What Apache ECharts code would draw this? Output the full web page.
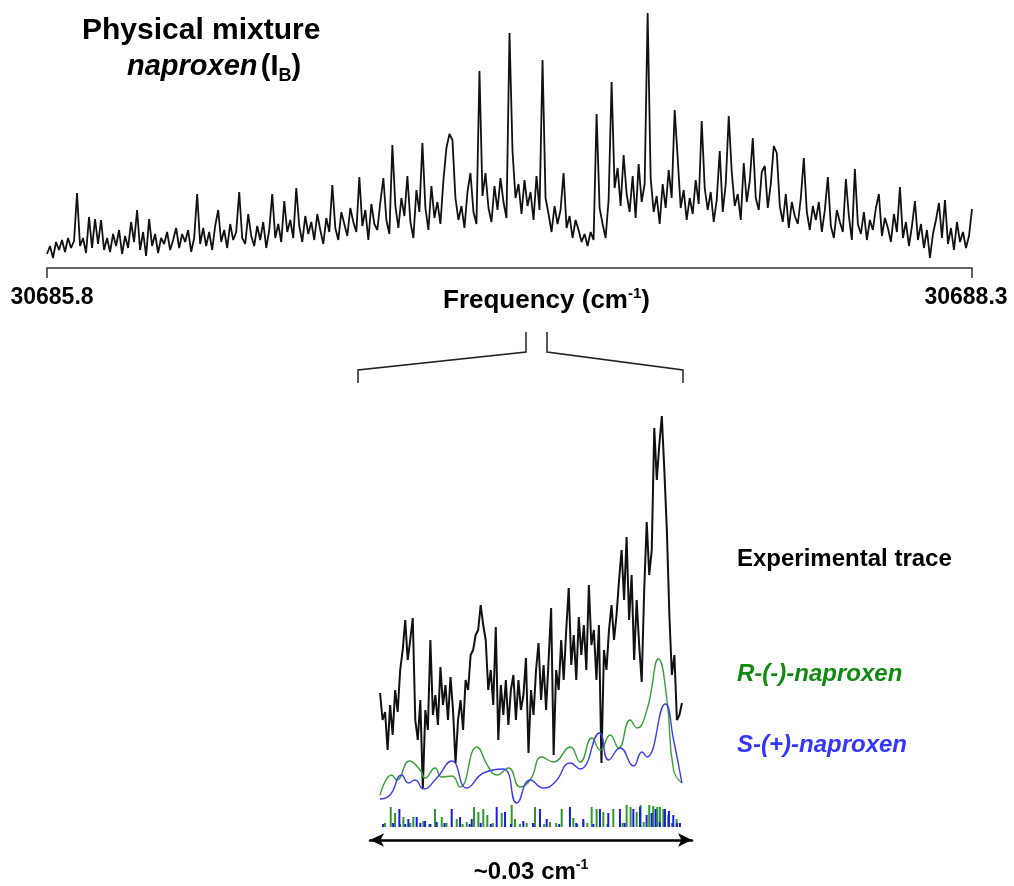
<!DOCTYPE html>
<html><head><meta charset="utf-8">
<script src="https://cdn.jsdelivr.net/npm/echarts@6/dist/echarts.min.js"></script>
<style>html,body{margin:0;padding:0;background:#fff}#c{width:1014px;height:886px}</style>
</head><body><div id="c"></div>
<script>
// ---- data ----
const topFreqRange = [30685.8, 30688.3];
const topTickLabels = [30685.8, 30688.3];
const topIntensity = [
14,22,10,26,18,28,16,30,20,27,
75,22,30,15,51,20,49,24,48,18,
30,16,34,22,38,14,32,20,46,26,
58,18,36,12,49,22,34,15,30,24,
36,18,28,40,20,34,26,38,16,30,
74,24,40,22,36,18,42,58,26,38,
20,44,28,36,76,30,24,54,32,22,
42,28,46,20,38,74,30,44,26,67,
36,48,30,80,42,26,52,34,46,28,
54,38,24,50,36,83,40,28,56,44,
32,60,46,36,91,42,58,28,64,44,
38,66,90,48,34,123,62,40,70,52,
92,46,30,78,56,125,60,38,82,50,
66,44,88,120,134,128,70,48,62,40,
76,95,56,44,197,72,95,60,46,82,
58,90,66,50,235,117,70,84,54,88,
62,76,48,92,58,208,70,54,36,62,
44,58,95,40,52,30,48,38,26,34,
22,36,28,154,60,44,30,68,186,80,
100,62,113,74,56,92,50,104,66,84,
255,90,56,72,44,84,60,98,70,158,
110,60,78,48,70,54,88,64,147,80,
58,76,46,68,117,56,84,152,96,62,
74,48,105,66,87,130,70,58,96,102,
60,84,122,115,62,46,74,40,66,52,
44,70,110,56,38,62,48,66,36,58,
91,42,30,58,46,36,89,52,28,99,
44,34,56,28,48,38,60,74,32,50,
40,26,54,36,81,30,46,22,42,67,
28,44,20,38,10,34,48,65,30,68,
24,40,18,46,26,36,20,32,59
];
// zoomed window, relative frequency units (0..30 spans ~0.03 cm-1)
const traceRange = [0, 30];
const traceIntensity = [
137,110,118,80,125,95,140,118,160,180,
210,170,190,212,110,90,130,42,120,100,
190,115,135,105,163,125,145,110,153,120,
67,110,130,100,150,140,175,180,195,200,
225,205,190,140,160,125,203,90,145,115,
150,105,140,155,110,150,120,135,172,77,
140,115,160,187,130,165,120,170,222,75,
160,140,190,150,200,242,165,195,150,213,
175,205,160,245,185,200,150,205,67,180,
160,200,225,190,215,250,280,230,293,210,
255,170,230,185,148,240,308,255,280,402,
350,385,414,360,300,215,155,175,110,115,
127
];
const rCurve = [[0,35],[1.16,55],[1.66,50],[2.92,69],[3.98,60],[4.47,52],[5.47,62],[6.13,53],[7.13,54],[7.95,43],[9.61,83],[10.77,63],[11.6,55],[12.76,62],[13.92,43],[14.92,50],[16.08,73],[17.24,68],[18.89,83],[19.89,68],[21.05,92],[21.88,80],[22.87,95],[23.7,82],[24.86,110],[25.52,102],[26.52,120],[27.68,171],[28.51,130],[29.17,60],[30,47]];
const sCurve = [[0,31],[0.99,35],[2.15,55],[2.82,47],[3.48,50],[4.31,41],[5.63,52],[7.13,69],[8.62,42],[10.28,57],[12.26,61],[13.59,27],[14.92,50],[16.24,42],[17.4,48],[18.89,67],[19.89,61],[21.81,97],[22.71,70],[23.86,82],[25.19,64],[26.02,78],[26.52,73],[28.34,126],[29.17,90],[30,47]];
const rSticks = [[0.5,4],[1.06,20],[1.49,14],[2.0,3],[2.32,10],[3.0,4],[3.31,10],[4.3,6],[4.9,3],[5.46,18],[6.13,10],[6.6,4],[7.62,8],[8.2,3],[8.61,5],[9.34,20],[9.77,15],[10.26,18],[10.66,12],[11.2,4],[12.09,14],[13.08,22],[13.41,8],[13.9,3],[14.57,4],[15.4,20],[16.3,3],[16.89,5],[17.5,4],[18.05,18],[19.21,9],[19.6,3],[20.2,5],[20.6,4],[21.03,20],[21.52,18],[22.19,15],[22.6,3],[23.18,18],[24.1,4],[24.5,22],[24.9,20],[25.5,15],[25.89,22],[26.2,5],[26.75,22],[27.15,21],[27.55,20],[27.81,20],[28.15,18],[28.64,12],[29.0,4],[29.47,8]];
const sSticks = [[0.3,3],[1.3,4],[1.92,18],[2.5,3],[2.81,8],[3.64,10],[4.0,4],[4.47,6],[5.0,3],[5.63,5],[6.4,4],[7.12,18],[7.95,10],[8.9,3],[9.11,8],[10.0,4],[11.0,3],[11.59,20],[12.42,15],[13.0,3],[14.24,6],[15.2,4],[15.89,18],[16.56,8],[17.8,3],[18.87,20],[19.5,4],[20.2,8],[21.2,3],[21.85,18],[22.68,14],[23.84,18],[24.3,4],[25.17,18],[25.83,20],[26.49,12],[26.99,14],[27.38,18],[27.8,5],[28.31,18],[28.71,16],[29.14,12],[29.5,4],[29.8,4]];

// ---- build ----
const topStep = (topFreqRange[1] - topFreqRange[0]) / (topIntensity.length - 1);
const topData = topIntensity.map((v, i) => [topFreqRange[0] + i * topStep, v]);
const trStep = (traceRange[1] - traceRange[0]) / (traceIntensity.length - 1);
const traceData = traceIntensity.map((v, i) => [traceRange[0] + i * trStep, v]);

const FF = '"Liberation Sans", Arial, sans-serif';
const supStyle = {fontSize: 14, fontWeight: 'bold', fontFamily: FF, color: '#000', padding: [0, 0, 14, 0]};
const lblBase = {fontSize: 23, fontWeight: 'bold', fontFamily: FF, color: '#000'};
const chart = echarts.init(document.getElementById('c'), null, {renderer: 'canvas'});
chart.setOption({
  animation: false,
  backgroundColor: '#fff',
  grid: [
    {left: 47, right: 42, top: 7, bottom: 618},
    {left: 370, width: 322, top: 400, bottom: 56},
    {left: 370, width: 322, bottom: 46, height: 43}
  ],
  xAxis: [
    {gridIndex: 0, type: 'value', min: topFreqRange[0], max: topFreqRange[1],
     axisLine: {show: true, lineStyle: {color: '#333', width: 1.5}},
     axisTick: {show: true, customValues: topTickLabels, length: 10, lineStyle: {color: '#333', width: 1.5}},
     axisLabel: {show: true, customValues: topTickLabels, margin: 18,
       formatter: v => (v === topTickLabels[0] ? '{l|' : '{r|') + v.toFixed(1) + '}',
       rich: {l: Object.assign({padding: [0, 0, 0, 10]}, lblBase), r: Object.assign({padding: [0, 12, 0, 0]}, lblBase)},
       color: '#000', fontSize: 23, fontWeight: 'bold', fontFamily: FF},
     splitLine: {show: false},
     name: 'Frequency (cm{sup|-1})', nameLocation: 'middle', nameGap: 18, nameMoveOverlap: false,
     nameTextStyle: {color: '#000', fontSize: 26, fontWeight: 'bold', fontFamily: FF, verticalAlign: 'top',
       padding: [0, 0, 0, 74], rich: {sup: Object.assign({}, supStyle, {fontSize: 15})}}
    },
    {gridIndex: 1, type: 'value', min: -1, max: 31, show: false},
    {gridIndex: 2, type: 'value', min: -1, max: 31,
     axisLine: {show: true, onZero: false, symbol: ['arrow', 'arrow'], symbolSize: [10, 14], lineStyle: {color: '#000', width: 2.5}},
     axisTick: {show: false}, axisLabel: {show: false}, splitLine: {show: false},
     name: '~0.03 cm{sup|-1}', nameLocation: 'middle', nameGap: 18, nameMoveOverlap: false,
     nameTextStyle: {color: '#000', fontSize: 24, fontWeight: 'bold', fontFamily: FF, verticalAlign: 'top',
       rich: {sup: supStyle}}
    }
  ],
  yAxis: [
    {gridIndex: 0, type: 'value', min: 0, max: 261, show: false},
    {gridIndex: 1, type: 'value', min: 0, max: 430, show: false},
    {gridIndex: 2, type: 'value', min: -13, max: 30, show: false}
  ],
  series: [
    {type: 'line', xAxisIndex: 0, yAxisIndex: 0, data: topData, showSymbol: false,
     lineStyle: {color: '#111', width: 1.8}},
    {type: 'line', xAxisIndex: 1, yAxisIndex: 1, data: traceData, showSymbol: false,
     lineStyle: {color: '#111', width: 2}},
    {type: 'line', xAxisIndex: 1, yAxisIndex: 1, data: rCurve, showSymbol: false, smooth: 0.5,
     lineStyle: {color: '#3aa03a', width: 1.4}},
    {type: 'line', xAxisIndex: 1, yAxisIndex: 1, data: sCurve, showSymbol: false, smooth: 0.5,
     lineStyle: {color: '#3c3cf0', width: 1.4}},
    {type: 'bar', xAxisIndex: 2, yAxisIndex: 2, data: rSticks, barWidth: 2, barGap: '-100%',
     itemStyle: {color: '#2e9a2e'}},
    {type: 'bar', xAxisIndex: 2, yAxisIndex: 2, data: sSticks, barWidth: 2, barGap: '-100%',
     itemStyle: {color: '#1a1ae6'}}
  ],
  graphic: [
    {type: 'text', left: 82, top: 16, style: {text: 'Physical mixture', fill: '#000',
      font: 'bold 30px ' + FF}},
    {type: 'text', left: 127, top: 52, style: {
      text: '{i|naproxen} {n|(I}{s|B}{n|)}',
      rich: {
        i: {fontSize: 29, fontWeight: 'bold', fontStyle: 'italic', fontFamily: FF, fill: '#000'},
        n: {fontSize: 29, fontWeight: 'bold', fontFamily: FF, fill: '#000'},
        s: {fontSize: 18, fontWeight: 'bold', fontFamily: FF, fill: '#000', padding: [20, 0, 0, 0]}
      }}},
    {type: 'polyline', shape: {points: [[526, 332], [526, 352], [358, 370], [358, 383]]},
     style: {stroke: '#222', lineWidth: 1.5, fill: null}},
    {type: 'polyline', shape: {points: [[547, 332], [547, 352], [683, 370], [683, 383]]},
     style: {stroke: '#222', lineWidth: 1.5, fill: null}},
    {type: 'text', left: 737, top: 547, style: {text: 'Experimental trace', fill: '#000',
      font: 'bold 24px ' + FF}},
    {type: 'text', left: 737, top: 662, style: {text: 'R-(-)-naproxen', fill: '#118a11',
      font: 'italic bold 24px ' + FF}},
    {type: 'text', left: 737, top: 733, style: {text: 'S-(+)-naproxen', fill: '#3535ff',
      font: 'italic bold 24px ' + FF}}
  ]
});
</script>
</body></html>
